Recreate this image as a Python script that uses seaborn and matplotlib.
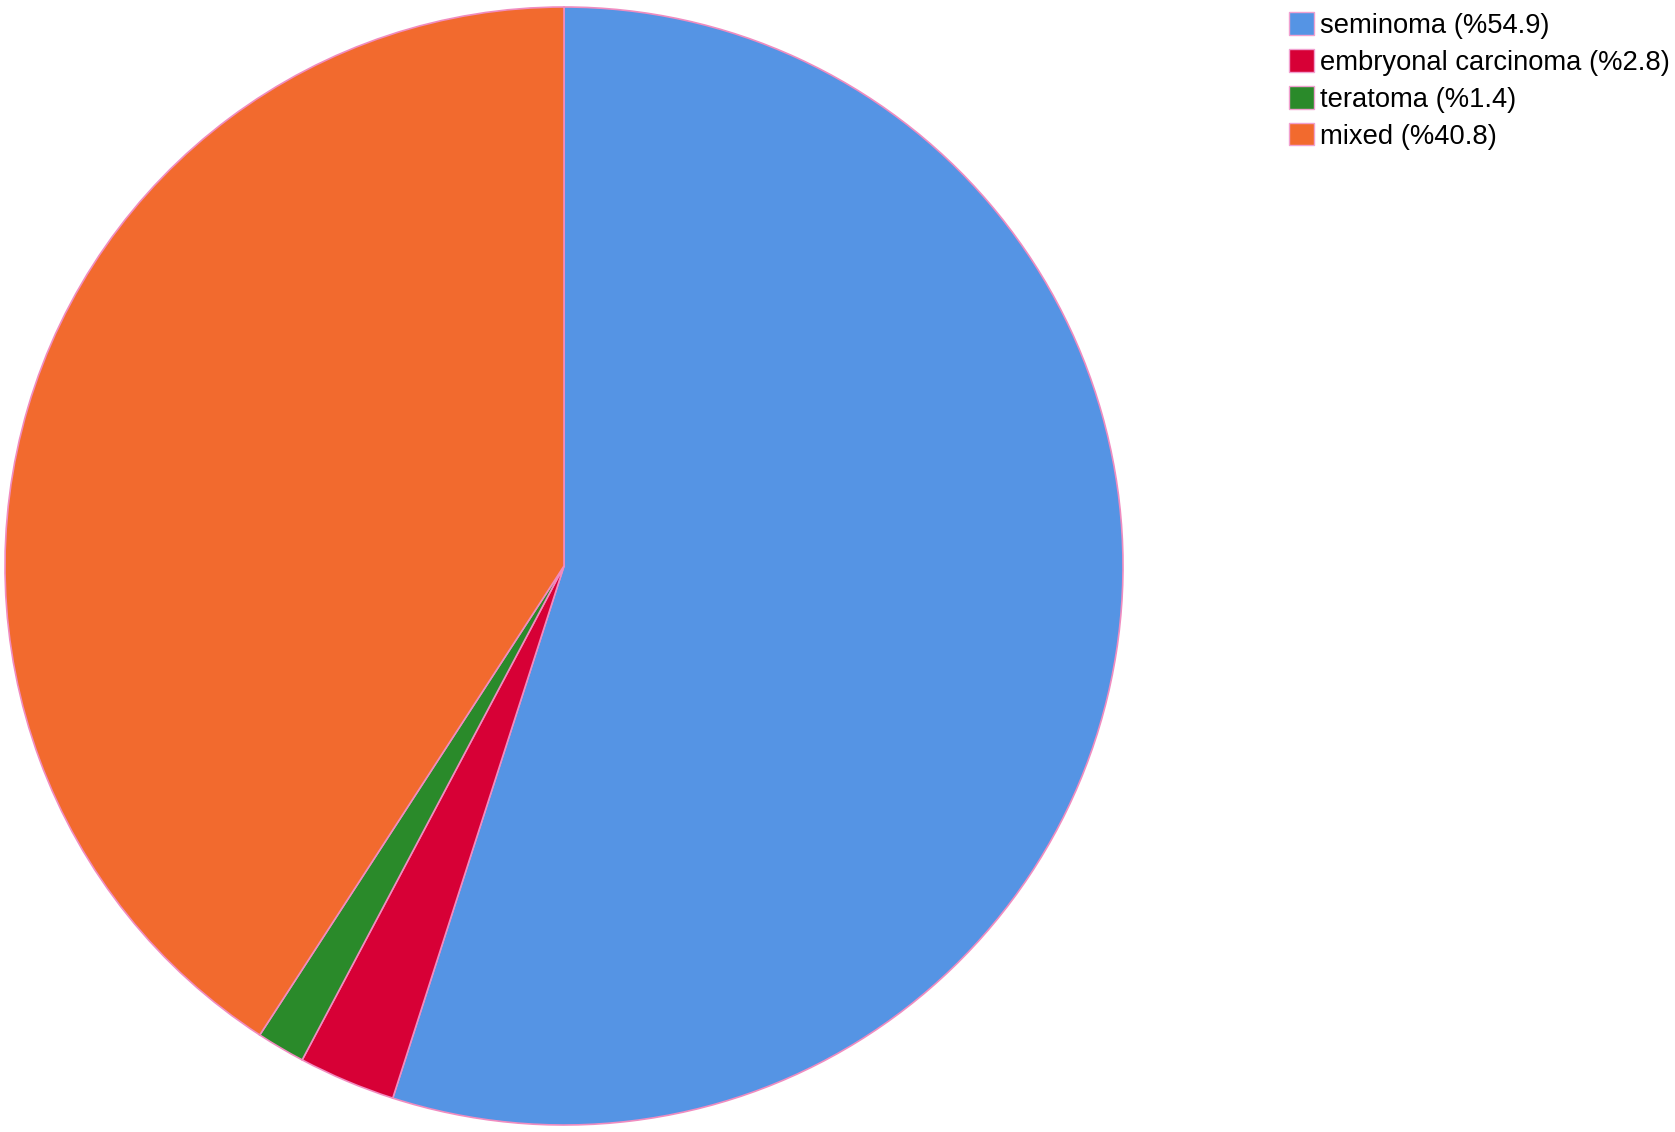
import seaborn as sns
import matplotlib.pyplot as plt
from matplotlib.patches import Patch

labels = ['seminoma', 'embryonal carcinoma', 'teratoma', 'mixed']
percents = [54.9, 2.8, 1.4, 40.8]
colors = ['#5594E4', '#D70036', '#2A8A2A', '#F26A2E']


def main():
    sns.set_theme(style='white')
    plt.rcParams['font.family'] = ['Liberation Sans', 'DejaVu Sans']

    fig = plt.figure(figsize=(16.75, 11.32), dpi=100)
    W, H = 1675, 1132
    cx, cy, r = 564, 566, 559
    ax = fig.add_axes([(cx - r) / W, (H - cy - r) / H, 2 * r / W, 2 * r / H])

    ax.pie(percents, colors=colors, startangle=90, counterclock=False,
           radius=1, wedgeprops=dict(edgecolor='#F08CC0', linewidth=1.2))
    ax.set_xlim(-1.0, 1.0)
    ax.set_ylim(-1.0, 1.0)
    ax.set_aspect('equal')
    ax.axis('off')

    handles = [Patch(facecolor=c, edgecolor='#F0A0D0', linewidth=1.0) for c in colors]
    texts = [f'{l} (%{p})' for l, p in zip(labels, percents)]
    fig.legend(handles, texts, loc='upper left', bbox_to_anchor=(1289 / W, 1 - 12 / H),
               frameon=False, fontsize=19.7, handlelength=0.9, handleheight=0.9,
               handletextpad=0.22, labelspacing=0.37, borderaxespad=0, borderpad=0,
               labelcolor='black')

    fig.savefig('out.png', dpi=100)


if __name__ == '__main__':
    main()
